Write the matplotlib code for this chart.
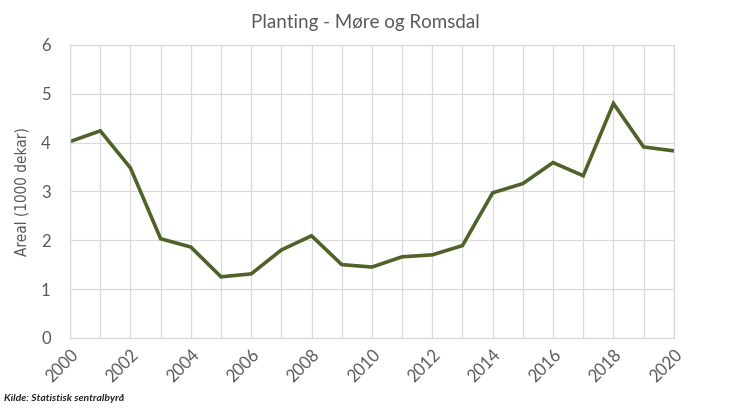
import matplotlib
matplotlib.use('Agg')
import matplotlib.pyplot as plt
from matplotlib.ticker import MultipleLocator

# Data
years = list(range(2000, 2021))
areal = [4.02, 4.24, 3.48, 2.03, 1.86, 1.25, 1.31, 1.80, 2.09, 1.50, 1.45,
         1.66, 1.70, 1.89, 2.97, 3.16, 3.59, 3.32, 4.80, 3.91, 3.83]
year_ticks = list(range(2000, 2021, 2))

title = 'Planting - Møre og Romsdal'
ylabel = 'Areal (1000 dekar)'
source = 'Kilde: Statistisk sentralbyrå'

plt.rcParams['font.family'] = ['Lato', 'DejaVu Sans']

fig = plt.figure(figsize=(7.3, 4.12), dpi=100)
ax = fig.add_axes([0.096, 0.18, 0.827, 0.711])

ax.plot(years, areal, color='#4f6228', linewidth=2.6, solid_joinstyle='miter')

ax.set_xlim(2000, 2020)
ax.set_ylim(0, 6)
ax.set_xticks(year_ticks)
ax.xaxis.set_minor_locator(MultipleLocator(1))
ax.yaxis.set_major_locator(MultipleLocator(1))
ax.grid(True, which='both', color='#d9d9d9', linewidth=0.9)
ax.set_axisbelow(True)

for s in ax.spines.values():
    s.set_color('#d9d9d9')
    s.set_linewidth(0.9)

ax.tick_params(axis='both', which='both', length=0, colors='#595959', labelsize=12)
ax.tick_params(axis='y', pad=14)
plt.setp(ax.get_xticklabels(), rotation=45, ha='right', rotation_mode='anchor')
ax.tick_params(axis='x', pad=6)

ax.set_ylabel(ylabel, color='#595959', fontsize=11, labelpad=8,
              family=['DejaVu Sans'], stretch='condensed')
fig.text(0.5, 0.945, title, ha='center', va='center', fontsize=13.5, color='#595959')
fig.text(0.005, 0.032, source, ha='left', va='center', fontsize=7.5,
         style='italic', weight='bold', color='#222222')

fig.savefig('out.png', dpi=100)
